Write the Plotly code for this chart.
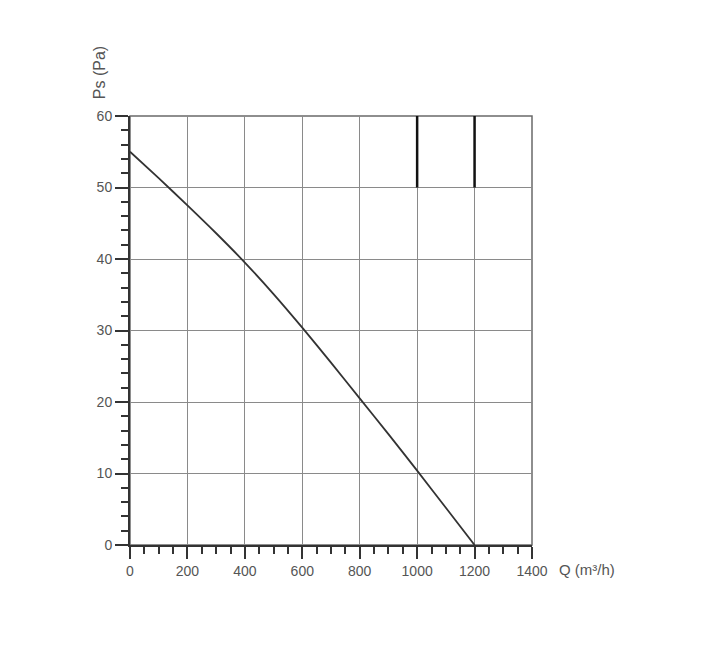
import plotly.graph_objects as go

flow = [0, 100, 200, 300, 400, 500, 600, 700, 800, 900, 1000, 1100, 1200]
pressure = [55, 51.3, 47.5, 43.6, 39.5, 35.1, 30.4, 25.5, 20.5, 15.5, 10.4, 5.2, 0]

mark_x = [1000, 1200]
mark_y = [50, 60]

x_ticks = [0, 200, 400, 600, 800, 1000, 1200, 1400]
y_ticks = [0, 10, 20, 30, 40, 50, 60]

fig = go.Figure()
fig.add_trace(go.Scatter(x=flow, y=pressure, mode="lines",
                         line=dict(color="#333333", width=1.8, shape="spline", smoothing=0.6),
                         showlegend=False, hoverinfo="skip"))
for mx in mark_x:
    fig.add_trace(go.Scatter(x=[mx, mx], y=mark_y, mode="lines",
                             line=dict(color="#111111", width=2.5),
                             showlegend=False, hoverinfo="skip"))

font_col = "#555555"
fig.update_layout(
    width=720, height=667,
    margin=dict(l=122, r=196, t=108, b=130),
    paper_bgcolor="white", plot_bgcolor="white",
    font=dict(family="Liberation Sans, Arial, sans-serif", size=14, color=font_col),
    xaxis=dict(range=[0, 1400], tickvals=x_ticks, showgrid=True,
               gridcolor="#8a8a8a", gridwidth=1.3, zeroline=False,
               showline=True, linecolor="#333333", linewidth=2,
               ticks="outside", ticklen=12, tickwidth=1.5, tickcolor="#333333",
               minor=dict(dtick=50, ticks="outside", ticklen=7, tickwidth=1.5,
                          tickcolor="#333333", showgrid=False),
               tickfont=dict(size=14, color=font_col)),
    yaxis=dict(range=[0, 60], tickvals=y_ticks, showgrid=True,
               gridcolor="#8a8a8a", gridwidth=1.3, zeroline=False,
               showline=True, linecolor="#333333", linewidth=2,
               ticks="outside", ticklen=13, tickwidth=1.5, tickcolor="#333333",
               minor=dict(dtick=2, ticks="outside", ticklen=7, tickwidth=1.5,
                          tickcolor="#333333", showgrid=False),
               tickfont=dict(size=14, color=font_col)),
    shapes=[dict(type="rect", xref="paper", yref="paper", x0=0, y0=0, x1=1, y1=1,
                 line=dict(color="#6a6a6a", width=1.5), layer="below")],
    annotations=[
        dict(text="Q (m³/h)", xref="paper", yref="paper", x=1.062, y=-0.058,
             xanchor="left", yanchor="middle", showarrow=False,
             font=dict(size=15, color=font_col)),
        dict(text="Ps (Pa)", xref="paper", yref="paper", x=-0.077, y=1.1,
             xanchor="center", yanchor="middle", showarrow=False, textangle=-90,
             font=dict(size=16, color=font_col)),
    ],
)

fig.write_html("out.html")
